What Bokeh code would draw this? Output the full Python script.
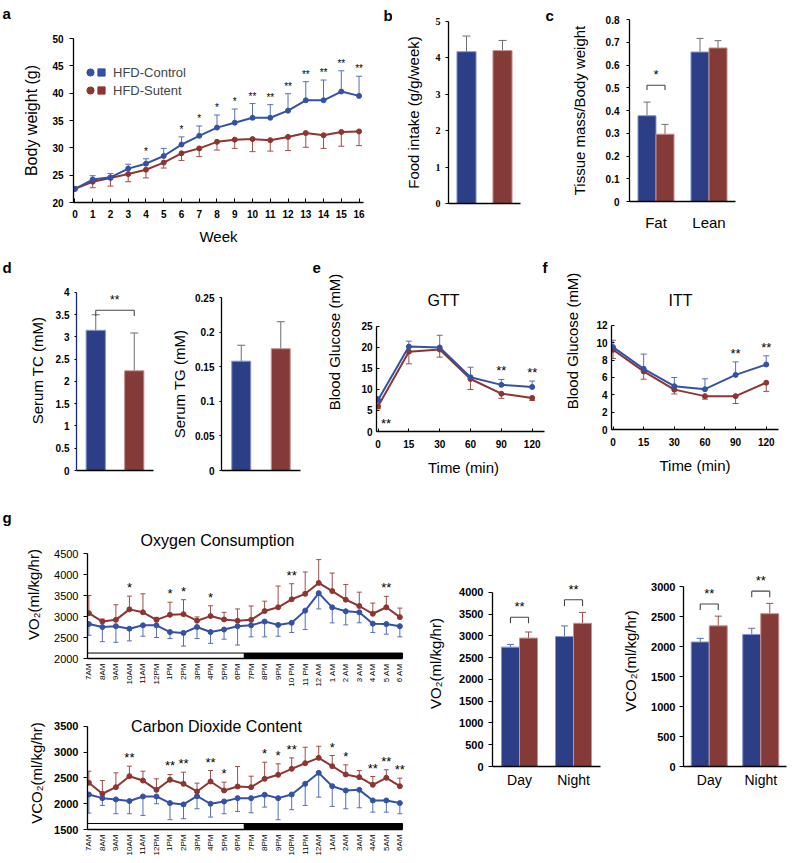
import math
from bokeh.plotting import figure
from bokeh.layouts import row, column
from bokeh.models import (ColumnDataSource, Whisker, TeeHead, Label, Legend, LegendItem,
                          FactorRange, Range1d, FixedTicker, NumeralTickFormatter)
from bokeh.transform import dodge
from bokeh.core.properties import value
from bokeh.embed import file_html
from bokeh.resources import INLINE

FONT = "Liberation Sans"
SERIF = "Liberation Serif"
BLUE_BAR = "#2C3F86"
RED_BAR = "#843A37"
BLUE_EDGE = "#8595CF"
RED_EDGE = "#C8918D"
BLUE_LINE = "#3352A5"
RED_LINE = "#8E3532"
BLUE_ERR = "#5670B5"
RED_ERR = "#9C4E4B"
GREY_ERR = "#6E6E6E"

# ---------------- data ----------------
# a: body weight
weeks = list(range(17))
bw_ctrl = [22.5, 24.2, 24.6, 26.2, 27.1, 28.5, 30.6, 32.2, 33.7, 34.6, 35.5, 35.5, 36.8, 38.7, 38.7, 40.3, 39.5]
bw_ctrl_err = [0, 0.7, 0.7, 0.8, 0.9, 1.4, 1.4, 1.8, 2.3, 2.5, 2.6, 2.4, 3.1, 3.4, 3.7, 3.8, 3.6]
bw_sut = [22.5, 23.8, 24.5, 25.2, 26.0, 27.3, 29.0, 29.9, 31.1, 31.5, 31.6, 31.4, 32.0, 32.7, 32.3, 32.9, 33.0]
bw_sut_err = [0, 1.1, 1.5, 1.4, 1.5, 1.0, 1.3, 1.5, 1.5, 1.6, 2.3, 2.0, 2.5, 2.6, 2.4, 2.6, 2.6]
bw_sig = ["", "", "", "", "*", "", "*", "*", "*", "*", "**", "**", "**", "**", "**", "**", "**"]
bw_ticks = [20, 25, 30, 35, 40, 45, 50]
series_names = ["HFD-Control", "HFD-Sutent"]

# b: food intake
food = [4.17, 4.20]
food_err = [0.43, 0.28]
food_ticks = [0, 1, 2, 3, 4, 5]

# c: tissue mass
tissue_cats = ["Fat", "Lean"]
tissue_ctrl = [0.377, 0.657]
tissue_ctrl_err = [0.060, 0.060]
tissue_sut = [0.296, 0.675]
tissue_sut_err = [0.043, 0.032]
tissue_ticks = [0, 0.1, 0.2, 0.3, 0.4, 0.5, 0.6, 0.7, 0.8]
tissue_bracket = dict(cat=["Fat"], top=[0.511], leg=[0.49], sig=["*"])

# d: serum
tc = [3.15, 2.24]
tc_err = [0.35, 0.85]
tc_ticks = [0, 0.5, 1, 1.5, 2, 2.5, 3, 3.5, 4]
tc_bracket_top = 3.6
tc_bracket_leg = 3.47
tg = [0.158, 0.176]
tg_err = [0.023, 0.039]
tg_ticks = [0, 0.05, 0.1, 0.15, 0.2, 0.25]

# e/f: GTT / ITT
times = ["0", "15", "30", "60", "90", "120"]
gtt_ctrl = [7.5, 20.2, 20.0, 12.9, 11.1, 10.6]
gtt_ctrl_err = [0.8, 1.3, 2.9, 2.4, 1.3, 1.4]
gtt_sut = [6.0, 19.0, 19.5, 12.5, 9.0, 8.0]
gtt_sut_err = [0.6, 2.9, 1.8, 2.5, 1.1, 0.6]
gtt_sig = ["", "", "", "", "**", "**"]
gtt_sig_below = ["**", "", "", "", "", ""]
gtt_ticks = [0, 5, 10, 15, 20, 25]
itt_ctrl = [9.5, 7.0, 5.0, 4.65, 6.3, 7.5]
itt_ctrl_err = [0.8, 1.7, 1.0, 1.2, 1.5, 1.0]
itt_sut = [9.2, 6.7, 4.6, 3.85, 3.85, 5.4]
itt_sut_err = [1.0, 0.9, 0.5, 0.35, 0.85, 1.0]
itt_sig = ["", "", "", "", "**", "**"]
itt_ticks = [0, 2, 4, 6, 8, 10, 12]

# g: metabolic cages
hours_vo2 = ["7AM", "8AM", "9AM", "10AM", "11AM", "12PM", "1PM", "2PM", "3PM", "4PM", "5PM", "6PM",
             "7PM", "8PM", "9PM", "10 PM", "11 PM", "12 AM", "1 AM", "2 AM", "3 AM", "4 AM", "5 AM", "6 AM"]
hours_vco2 = ["7AM", "8AM", "9AM", "10AM", "11AM", "12PM", "1PM", "2PM", "3PM", "4PM", "5PM", "6PM",
              "7PM", "8PM", "9PM", "10PM", "11PM", "12AM", "1AM", "2AM", "3AM", "4AM", "5AM", "6AM"]
vo2_ctrl = [2820, 2750, 2770, 2710, 2790, 2790, 2630, 2610, 2750, 2630, 2690, 2770,
            2790, 2880, 2800, 2850, 3140, 3556, 3218, 3125, 3100, 2830, 2820, 2770]
vo2_ctrl_err = [266, 350, 385, 290, 260, 290, 155, 315, 275, 270, 230, 450,
                275, 365, 270, 230, 450, 376, 370, 325, 250, 210, 240, 255]
vo2_sut = [3080, 2880, 2920, 3170, 3100, 2920, 3040, 3055, 2900, 3010, 2930, 2900,
           2920, 3130, 3220, 3410, 3540, 3800, 3605, 3400, 3250, 3065, 3220, 2985]
vo2_sut_err = [420, 60, 360, 315, 440, 60, 300, 345, 90, 245, 170, 280,
               330, 235, 505, 370, 520, 555, 430, 360, 330, 255, 260, 215]
vo2_sig = ["", "", "", "*", "", "", "*", "*", "", "*", "", "",
           "", "", "", "**", "", "", "", "", "", "", "**", ""]
vo2_ticks = [2000, 2500, 3000, 3500, 4000, 4500]
vco2_ctrl = [2180, 2109, 2084, 2052, 2142, 2142, 2013, 1987, 2148, 2000, 2045, 2109,
             2109, 2174, 2109, 2180, 2387, 2600, 2341, 2258, 2270, 2064, 2064, 2013]
vco2_ctrl_err = [362, 142, 278, 246, 369, 142, 323, 278, 245, 259, 239, 258,
                 284, 239, 419, 296, 420, 472, 393, 355, 348, 227, 227, 207]
vco2_sut = [2407, 2194, 2322, 2535, 2450, 2270, 2465, 2387, 2238, 2432, 2258, 2335,
            2322, 2484, 2562, 2678, 2787, 2891, 2729, 2568, 2516, 2368, 2504, 2341]
vco2_sut_err = [225, 256, 278, 194, 182, 214, 103, 226, 162, 213, 161, 388,
                213, 322, 213, 213, 310, 225, 207, 187, 130, 161, 155, 155]
vco2_sig = ["", "", "", "**", "", "", "**", "**", "", "**", "*", "",
            "", "*", "*", "**", "", "", "*", "*", "", "**", "**", "**"]
vco2_ticks = [1500, 2000, 2500, 3000, 3500]
photo_edges = [-0.1, 11.5, 23.2]   # light (7AM-7PM) / dark (7PM-7AM)
photo_fill = ["white", "black"]

periods = ["Day", "Night"]
vo2_bar_ctrl = [2742, 2985]
vo2_bar_ctrl_err = [63, 245]
vo2_bar_sut = [2950, 3290]
vo2_bar_sut_err = [140, 250]
vo2_bar_bracket = dict(cat=periods, top=[3430, 3830], leg=[3290, 3690], sig=["**", "**"])
vo2_bar_ticks = [0, 500, 1000, 1500, 2000, 2500, 3000, 3500, 4000]
vco2_bar_ctrl = [2076, 2202]
vco2_bar_ctrl_err = [61, 102]
vco2_bar_sut = [2345, 2548]
vco2_bar_sut_err = [162, 172]
vco2_bar_bracket = dict(cat=periods, top=[2710, 2924], leg=[2610, 2822], sig=["**", "**"])
vco2_bar_ticks = [0, 500, 1000, 1500, 2000, 2500, 3000]


# ---------------- helpers ----------------
def make_fig(width, height, left, right, top, bottom, x_range, y_range):
    p = figure(width=width, height=height, x_range=x_range, y_range=y_range, title=None,
               output_backend="svg", toolbar_location=None, frame_align=False,
               min_border_left=left, min_border_right=right,
               min_border_top=top, min_border_bottom=bottom)
    p.outline_line_color = None
    p.xgrid.visible = False
    p.ygrid.visible = False
    p.background_fill_color = "white"
    p.border_fill_color = "white"
    return p


def letter_fig(letter, width, height, x, baseline_from_top):
    p = figure(width=width, height=height, x_axis_location=None, y_axis_location=None, title=None,
               toolbar_location=None, output_backend="svg", min_border=0, frame_align=False,
               x_range=Range1d(0, 1), y_range=Range1d(0, 1))
    p.outline_line_color = None
    p.grid.visible = False
    p.background_fill_color = "white"
    p.border_fill_color = "white"
    add_label(p, letter, x, height - baseline_from_top, size="15px", bold=True)
    return p


def style_axis(ax, size="10px", bold=True, font=FONT, tick_in=0, tick_out=4, standoff=5,
               label=None, label_size="15px", label_standoff=5, line_color="black", bounds=None):
    ax.axis_line_color = line_color
    ax.axis_line_width = 1.3
    ax.major_tick_line_color = "black"
    ax.major_tick_line_width = 1
    ax.major_tick_in = tick_in
    ax.major_tick_out = tick_out
    ax.minor_tick_line_color = None
    ax.major_label_text_font = font
    ax.major_label_text_font_size = size
    ax.major_label_text_font_style = "bold" if bold else "normal"
    ax.major_label_text_color = "black"
    ax.major_label_standoff = standoff
    if bounds is not None:
        ax.bounds = bounds
    if label is not None:
        ax.axis_label = label
        ax.axis_label_text_font = FONT
        ax.axis_label_text_font_size = label_size
        ax.axis_label_text_font_style = "normal"
        ax.axis_label_text_color = "black"
        ax.axis_label_standoff = label_standoff


def hide_x_labels(ax):
    ax.major_label_text_color = None
    ax.major_tick_line_color = None


def add_label(p, text, x, y, size="15px", bold=False, align="left", baseline="alphabetic"):
    p.add_layout(Label(x=x, y=y, x_units="screen", y_units="screen", text=text,
                       text_font=FONT, text_font_size=size,
                       text_font_style="bold" if bold else "normal",
                       text_align=align, text_baseline=baseline, text_color="black"))


def add_whisker(p, source, base, lower, upper, color, up=True, size=6):
    head = TeeHead(size=size, line_color=color, line_width=1)
    p.add_layout(Whisker(source=source, base=base, lower=lower, upper=upper,
                         line_color=color, line_width=1,
                         upper_head=head if up else None,
                         lower_head=None if up else head))


def add_stars(p, source, x, y, text, size="11px", y_offset=-1, x_offset=0, baseline="bottom"):
    p.text(x=x, y=y, text=text, source=source, text_align="center", text_baseline=baseline,
           x_offset=x_offset, y_offset=y_offset, text_font=value(FONT), text_font_size=size,
           text_color="black")


def bracket(p, data, d, star_size="12px"):
    src = ColumnDataSource(data)
    kw = dict(source=src, line_color="#444444", line_width=1.1)
    p.segment(x0=dodge("cat", -d, range=p.x_range), x1=dodge("cat", d, range=p.x_range),
              y0="top", y1="top", **kw)
    p.segment(x0=dodge("cat", -d, range=p.x_range), x1=dodge("cat", -d, range=p.x_range),
              y0="top", y1="leg", **kw)
    p.segment(x0=dodge("cat", d, range=p.x_range), x1=dodge("cat", d, range=p.x_range),
              y0="top", y1="leg", **kw)
    add_stars(p, src, "cat", "top", "sig", size=star_size, y_offset=-3)


def add_pos(vals, errs):
    return [v + e for v, e in zip(vals, errs)]


def sub_neg(vals, errs):
    return [v - e for v, e in zip(vals, errs)]


def grouped_bars(p, cats, ctrl, ctrl_err, sut, sut_err, width, off, err_colors, cap=7):
    for vals, errs, o, fill, edge, ec in ((ctrl, ctrl_err, -off, BLUE_BAR, BLUE_EDGE, err_colors[0]),
                                          (sut, sut_err, off, RED_BAR, RED_EDGE, err_colors[1])):
        src = ColumnDataSource(dict(cat=cats, top=vals, hi=add_pos(vals, errs)))
        p.vbar(x=dodge("cat", o, range=p.x_range), top="top", width=width, source=src,
               fill_color=fill, line_color=edge, line_width=1)
        add_whisker(p, src, dodge("cat", o, range=p.x_range), "top", "hi", ec, up=True, size=cap)


def pair_bars(p, vals, errs, width, err_color, cap=8):
    src = ColumnDataSource(dict(cat=series_names, top=vals, hi=add_pos(vals, errs),
                                fill=[BLUE_BAR, RED_BAR], edge=[BLUE_EDGE, RED_EDGE]))
    p.vbar(x="cat", top="top", width=width, source=src, fill_color="fill", line_color="edge",
           line_width=1)
    add_whisker(p, src, "cat", "top", "hi", err_color, up=True, size=cap)


fmt = NumeralTickFormatter(format="0.[00]")

# ---------------- a ----------------
fa = make_fig(350, 250, 52, 7, 38, 48, Range1d(-0.08, 16.25), Range1d(20, 50))
src_as = ColumnDataSource(dict(x=weeks, y=bw_sut, lo=sub_neg(bw_sut, bw_sut_err)))
src_ac = ColumnDataSource(dict(x=weeks, y=bw_ctrl, hi=add_pos(bw_ctrl, bw_ctrl_err), sig=bw_sig))
idx = [i for i in weeks if bw_ctrl_err[i] > 0]
add_whisker(fa, ColumnDataSource(dict(x=[weeks[i] for i in idx], y=[bw_sut[i] for i in idx],
                                      lo=[bw_sut[i] - bw_sut_err[i] for i in idx])),
            "x", "lo", "y", RED_ERR, up=False, size=6)
add_whisker(fa, ColumnDataSource(dict(x=[weeks[i] for i in idx], y=[bw_ctrl[i] for i in idx],
                                      hi=[bw_ctrl[i] + bw_ctrl_err[i] for i in idx])),
            "x", "y", "hi", BLUE_ERR, up=True, size=6)
fa.line("x", "y", source=src_as, line_color=RED_LINE, line_width=2)
rs = fa.scatter("x", "y", source=src_as, marker="circle", size=5, fill_color=RED_LINE, line_color=RED_LINE)
fa.line("x", "y", source=src_ac, line_color=BLUE_LINE, line_width=2)
rc = fa.scatter("x", "y", source=src_ac, marker="circle", size=5, fill_color=BLUE_LINE, line_color=BLUE_LINE)
add_stars(fa, src_ac, "x", "hi", "sig", size="10px", y_offset=-2)
# square legend glyphs (hidden renderers, legend only)
sq_c = fa.scatter("x", "y", source=src_ac, marker="square", fill_color=BLUE_LINE, line_color=BLUE_LINE,
                  visible=False)
sq_s = fa.scatter("x", "y", source=src_as, marker="square", fill_color=RED_LINE, line_color=RED_LINE,
                  visible=False)
leg_kw = dict(glyph_width=18, glyph_height=18, label_height=18, spacing=0, padding=0, margin=0,
              background_fill_alpha=0, border_line_alpha=0, label_text_font=FONT,
              label_text_font_size="13px", label_standoff=3, click_policy="none")
fa.add_layout(Legend(items=[LegendItem(label=" ", renderers=[rc]),
                            LegendItem(label=" ", renderers=[rs])],
                     location=(8, 103), **leg_kw))
fa.add_layout(Legend(items=[LegendItem(label=series_names[0], renderers=[sq_c]),
                            LegendItem(label=series_names[1], renderers=[sq_s])],
                     location=(19, 103), **leg_kw))
fa.yaxis[0].ticker = FixedTicker(ticks=bw_ticks)
fa.xaxis[0].ticker = FixedTicker(ticks=weeks)
style_axis(fa.yaxis[0], "10px", tick_out=4, standoff=6, label="Body weight (g)", label_size="16px", label_standoff=9)
style_axis(fa.xaxis[0], "10px", tick_in=4, tick_out=0, standoff=7, label="Week", label_size="15px", label_standoff=7)

# ---------------- b ----------------
fb = make_fig(143, 250, 56, 15, 21, 47, FactorRange(factors=series_names), Range1d(0, 5))
pair_bars(fb, food, food_err, 0.53, GREY_ERR, cap=8)
fb.yaxis[0].ticker = FixedTicker(ticks=food_ticks)
style_axis(fb.yaxis[0], "10px", font=SERIF, tick_out=3, standoff=5, label="Food intake (g/g/week)",
           label_size="15px", label_standoff=11)
style_axis(fb.xaxis[0], "10px")
hide_x_labels(fb.xaxis[0])

# ---------------- c ----------------
fc = make_fig(232, 250, 69, 57, 19, 49, FactorRange(factors=tissue_cats), Range1d(0, 0.8))
grouped_bars(fc, tissue_cats, tissue_ctrl, tissue_ctrl_err, tissue_sut, tissue_sut_err, 0.34, 0.17,
             (GREY_ERR, GREY_ERR), cap=7)
bracket(fc, tissue_bracket, 0.17, star_size="13px")
fc.yaxis[0].ticker = FixedTicker(ticks=tissue_ticks)
fc.yaxis[0].formatter = fmt
style_axis(fc.yaxis[0], "10px", tick_out=3, standoff=7, label="Tissue mass/Body weight",
           label_size="15px", label_standoff=15)
style_axis(fc.xaxis[0], "15px", bold=False, tick_out=0, standoff=12)
fc.xaxis[0].major_tick_line_color = None

# ---------------- d ----------------
fd1 = make_fig(140, 230, 56, 7, 20, 10, FactorRange(factors=series_names), Range1d(0, 4.494))
pair_bars(fd1, tc, tc_err, 0.5, GREY_ERR, cap=8)
src_tcb = ColumnDataSource(dict(x0=[series_names[0]], x1=[series_names[1]], top=[tc_bracket_top],
                                leg=[tc_bracket_leg], sig=["**"]))
fd1.segment(x0="x0", x1="x1", y0="top", y1="top", source=src_tcb, line_color="#444444", line_width=1.1)
fd1.segment(x0="x0", x1="x0", y0="top", y1="leg", source=src_tcb, line_color="#444444", line_width=1.1)
fd1.segment(x0="x1", x1="x1", y0="top", y1="leg", source=src_tcb, line_color="#444444", line_width=1.1)
add_stars(fd1, src_tcb, "x0", "top", "sig", size="12px", y_offset=-3, x_offset=19)
fd1.yaxis[0].ticker = FixedTicker(ticks=tc_ticks)
fd1.yaxis[0].formatter = fmt
style_axis(fd1.yaxis[0], "10px", tick_out=2, standoff=5, label="Serum TC (mM)", label_size="15px",
           label_standoff=7, line_color="#1B2A7A", bounds=(0, 4))
style_axis(fd1.xaxis[0], "10px")
hide_x_labels(fd1.xaxis[0])

fd2 = make_fig(145, 230, 61, 5, 47, 10, FactorRange(factors=series_names), Range1d(0, 0.25))
pair_bars(fd2, tg, tg_err, 0.48, GREY_ERR, cap=8)
fd2.yaxis[0].ticker = FixedTicker(ticks=tg_ticks)
fd2.yaxis[0].formatter = fmt
style_axis(fd2.yaxis[0], "10px", tick_out=2, standoff=5, label="Serum TG (mM)", label_size="15px",
           label_standoff=4)
style_axis(fd2.xaxis[0], "10px")
hide_x_labels(fd2.xaxis[0])


# ---------------- e / f ----------------
def curve_panel(width, left, right, x_end, y_end, y_max, ticks, ctrl, ctrl_err, sut, sut_err, sig,
                title, tx, ty, label_standoff, bottom):
    p = make_fig(width, 230, left, right, 2, bottom, Range1d(-0.05, x_end), Range1d(0, y_end))
    xs = list(range(len(times)))
    s_src = ColumnDataSource(dict(x=xs, y=sut, lo=sub_neg(sut, sut_err)))
    c_src = ColumnDataSource(dict(x=xs, y=ctrl, hi=add_pos(ctrl, ctrl_err), sig=sig))
    add_whisker(p, s_src, "x", "lo", "y", RED_ERR, up=False, size=6)
    add_whisker(p, c_src, "x", "y", "hi", BLUE_ERR, up=True, size=6)
    p.line("x", "y", source=s_src, line_color=RED_LINE, line_width=2)
    p.scatter("x", "y", source=s_src, marker="circle", size=5, fill_color=RED_LINE, line_color=RED_LINE)
    p.line("x", "y", source=c_src, line_color=BLUE_LINE, line_width=2)
    p.scatter("x", "y", source=c_src, marker="circle", size=5, fill_color=BLUE_LINE, line_color=BLUE_LINE)
    add_stars(p, c_src, "x", "hi", "sig", size="13px", y_offset=-1)
    p.yaxis[0].ticker = FixedTicker(ticks=ticks)
    p.xaxis[0].ticker = FixedTicker(ticks=xs)
    p.xaxis[0].major_label_overrides = {i: t for i, t in zip(xs, times)}
    style_axis(p.yaxis[0], "10px", tick_in=3, tick_out=0, standoff=4, label="Blood Glucose (mM)",
               label_size="15px", label_standoff=label_standoff, bounds=(0, y_max))
    style_axis(p.xaxis[0], "10px", tick_in=3, tick_out=0, standoff=8, label="Time (min)",
               label_size="15px", label_standoff=8, bounds=(-0.05, 5.4))
    add_label(p, title, tx, ty, size="16px", align="center", baseline="middle")
    return p, xs


fe, xs_e = curve_panel(237, 53, 10, 5.594, 42.6, 25, gtt_ticks, gtt_ctrl, gtt_ctrl_err, gtt_sut, gtt_sut_err,
                       gtt_sig, "GTT", 67, 131, 15, 49)
src_below = ColumnDataSource(dict(x=xs_e, y=[0] * len(xs_e), sig=gtt_sig_below))
add_stars(fe, src_below, "x", "y", "sig", size="13px", y_offset=-1, x_offset=8)
add_label(fe, "f", 166, 164, size="15px", bold=True)
ff, _ = curve_panel(232, 51, 14, 5.4, 20.42, 12, itt_ticks, itt_ctrl, itt_ctrl_err, itt_sut, itt_sut_err,
                    itt_sig, "ITT", 69, 129, 12, 51)


# ---------------- g: time courses ----------------
def time_panel(height, top, bottom, y_start, y_end, y_max, ticks, hours, ctrl, ctrl_err, sut, sut_err, sig,
               bar_top, ylabel, bold_ticks, label_standoff):
    p = make_fig(400, height, 67, 12, top, bottom, Range1d(-0.1, 23.64), Range1d(y_start, y_end))
    xs = list(range(len(hours)))
    p.quad(left=photo_edges[:-1], right=photo_edges[1:], bottom=[y_start] * 2, top=[bar_top] * 2,
           fill_color=photo_fill, line_color="black", line_width=1)
    s_src = ColumnDataSource(dict(x=xs, y=sut, hi=add_pos(sut, sut_err), sig=sig))
    c_src = ColumnDataSource(dict(x=xs, y=ctrl, lo=sub_neg(ctrl, ctrl_err)))
    add_whisker(p, s_src, "x", "y", "hi", RED_ERR, up=True, size=5)
    add_whisker(p, c_src, "x", "lo", "y", BLUE_ERR, up=False, size=5)
    p.line("x", "y", source=c_src, line_color=BLUE_LINE, line_width=2)
    p.scatter("x", "y", source=c_src, marker="circle", size=5, fill_color=BLUE_LINE, line_color=BLUE_LINE)
    p.line("x", "y", source=s_src, line_color=RED_LINE, line_width=2)
    p.scatter("x", "y", source=s_src, marker="circle", size=5, fill_color=RED_LINE, line_color=RED_LINE)
    add_stars(p, s_src, "x", "hi", "sig", size="13px", y_offset=-1)
    p.yaxis[0].ticker = FixedTicker(ticks=ticks)
    p.xaxis[0].ticker = FixedTicker(ticks=xs)
    p.xaxis[0].major_label_overrides = {i: h for i, h in zip(xs, hours)}
    p.xaxis[0].major_label_orientation = math.pi / 2
    style_axis(p.yaxis[0], "11px", bold=bold_ticks, tick_out=4, standoff=5, label=ylabel,
               label_size="15px", label_standoff=label_standoff, bounds=(y_start, y_max))
    style_axis(p.xaxis[0], "8px", bold=False, tick_out=0, standoff=5, bounds=(-0.1, 23.2))
    p.xaxis[0].major_tick_line_color = None
    return p


fg1 = time_panel(220, 50, 42, 2000, 5048, 4500, vo2_ticks, hours_vo2, vo2_ctrl, vo2_ctrl_err, vo2_sut,
                 vo2_sut_err, vo2_sig, 2130, "VO\u2082(ml/kg/hr)", False, 9)
add_label(fg1, "Oxygen Consumption", 130, 118, size="16px", align="center", baseline="middle")
fg2 = time_panel(161, 16, 32, 1500, 3694, 3500, vco2_ticks, hours_vco2, vco2_ctrl, vco2_ctrl_err, vco2_sut,
                 vco2_sut_err, vco2_sig, 1616, "VCO\u2082(ml/kg/hr)", True, 6)
add_label(fg2, "Carbon Dioxide Content", 129, 103, size="16px", align="center", baseline="middle")

# ---------------- g: day / night bars ----------------
fg3 = make_fig(190, 381, 72, 10, 80, 95, FactorRange(factors=periods), Range1d(0, 4733))
grouped_bars(fg3, periods, vo2_bar_ctrl, vo2_bar_ctrl_err, vo2_bar_sut, vo2_bar_sut_err, 0.333, 0.167,
             (BLUE_ERR, RED_ERR), cap=7)
bracket(fg3, vo2_bar_bracket, 0.167, star_size="13px")
fg3.yaxis[0].ticker = FixedTicker(ticks=vo2_bar_ticks)
style_axis(fg3.yaxis[0], "11px", tick_out=4, standoff=5, label="VO\u2082(ml/kg/hr)", label_size="15px",
           label_standoff=12, bounds=(0, 4000))
style_axis(fg3.xaxis[0], "14px", bold=False, tick_out=0, standoff=5)
fg3.xaxis[0].major_tick_line_color = None

fg4 = make_fig(182, 381, 73, 6, 75, 95, FactorRange(factors=periods), Range1d(0, 3518))
grouped_bars(fg4, periods, vco2_bar_ctrl, vco2_bar_ctrl_err, vco2_bar_sut, vco2_bar_sut_err, 0.35, 0.175,
             (BLUE_ERR, RED_ERR), cap=7)
bracket(fg4, vco2_bar_bracket, 0.175, star_size="13px")
fg4.yaxis[0].ticker = FixedTicker(ticks=vco2_bar_ticks)
style_axis(fg4.yaxis[0], "11px", tick_out=4, standoff=4, label="VCO\u2082(ml/kg/hr)", label_size="15px",
           label_standoff=9, bounds=(0, 3000))
style_axis(fg4.xaxis[0], "14px", bold=False, tick_out=0, standoff=5)
fg4.xaxis[0].major_tick_line_color = None

# ---------------- panel letters ----------------
la = letter_fig("a", 20, 250, 2, 13)
lb = letter_fig("b", 22, 250, 13, 15)
lc = letter_fig("c", 25, 250, 10, 15)
ld = letter_fig("d", 20, 230, 2, 17)
le = letter_fig("e", 18, 230, 7, 17)
lg = letter_fig("g", 20, 381, 2, 37)

layout = column(
    row(la, fa, lb, fb, lc, fc),
    row(ld, fd1, fd2, le, fe, ff),
    row(lg, column(fg1, fg2), fg3, fg4),
)

open("out.html", "w").write(file_html(layout, INLINE))
